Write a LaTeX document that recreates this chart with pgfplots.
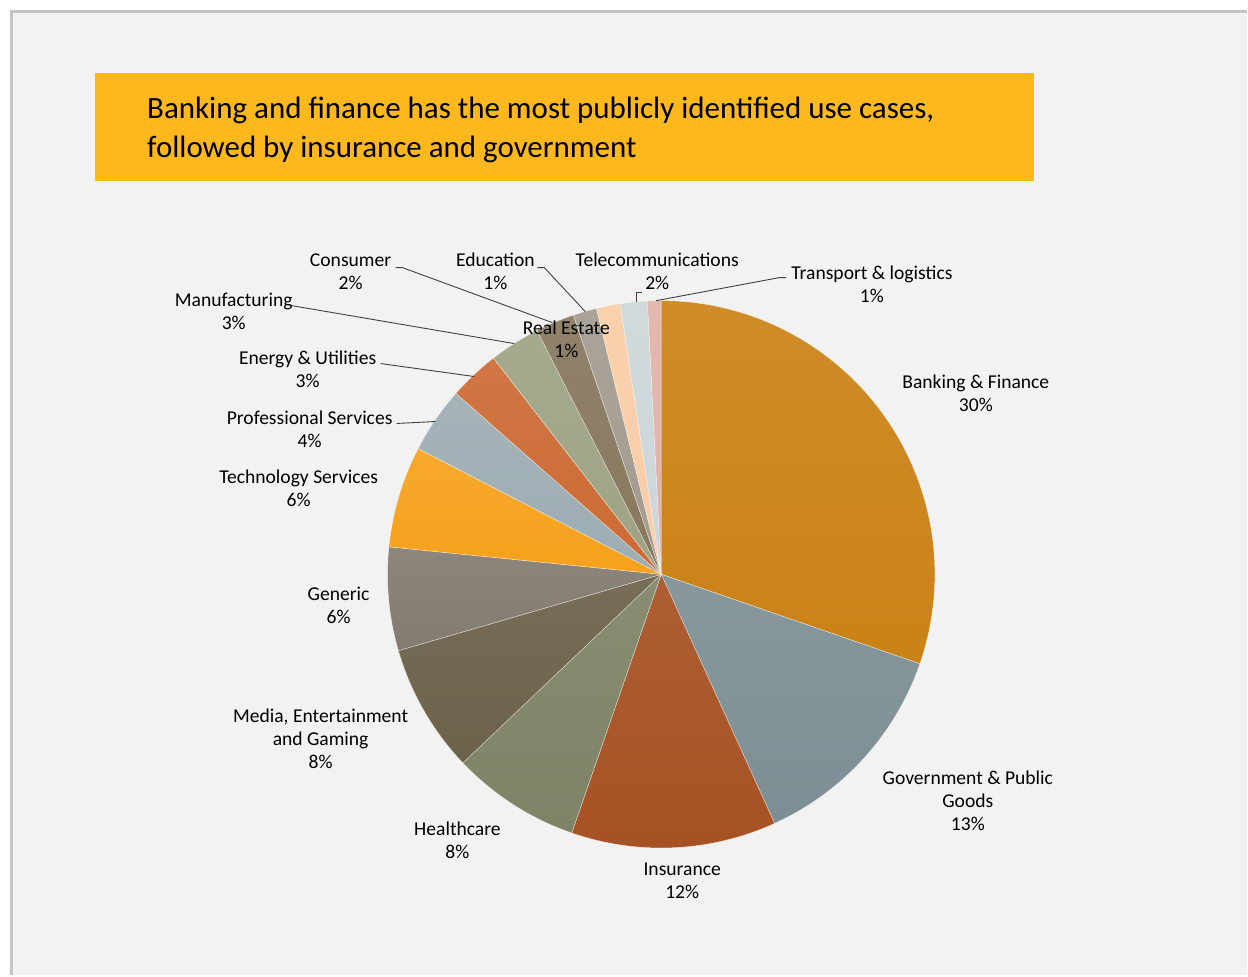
\documentclass[border=0pt]{standalone}
\usepackage{pgfplots}
\usepackage{pgfplotstable}
\pgfplotsset{compat=1.18}
\usepackage{fontspec}
\setmainfont{Carlito}

\definecolor{frame}{HTML}{C4C4C4}
\definecolor{panel}{HTML}{F2F2F2}
\definecolor{titlebar}{HTML}{FDB81E}
\definecolor{cBank}{HTML}{CB8216}
\definecolor{cGov}{HTML}{7D8F94}
\definecolor{cIns}{HTML}{A65123}
\definecolor{cHealth}{HTML}{7E8366}
\definecolor{cMedia}{HTML}{6C6149}
\definecolor{cGeneric}{HTML}{837B6F}
\definecolor{cTech}{HTML}{F7A11C}
\definecolor{cProf}{HTML}{9CADB3}
\definecolor{cEnergy}{HTML}{CC6A34}
\definecolor{cManuf}{HTML}{9DA383}
\definecolor{cCons}{HTML}{87785D}
\definecolor{cRE}{HTML}{A39B90}
\definecolor{cEdu}{HTML}{FACCA6}
\definecolor{cTele}{HTML}{CCD6D9}
\definecolor{cTrans}{HTML}{E0B3A7}

% share of use cases (per cent), clockwise from 12 o'clock
\pgfplotstableread[col sep=comma]{
sector,share,colour
Banking and Finance,30.3,cBank
Government and Public Goods,12.9,cGov
Insurance,12.1,cIns
Healthcare,7.6,cHealth
Media Entertainment and Gaming,7.6,cMedia
Generic,6.1,cGeneric
Technology Services,6.0,cTech
Professional Services,3.9,cProf
Energy and Utilities,3.0,cEnergy
Manufacturing,3.0,cManuf
Consumer,2.3,cCons
Real Estate,1.4,cRE
Education,1.4,cEdu
Telecommunications,1.6,cTele
Transport and logistics,0.8,cTrans
}\pietable

\begin{document}
\begin{tikzpicture}[
  lbl/.style={font=\fontsize{9.8}{11.5}\selectfont, align=center, text=black, inner sep=0pt},
  lead/.style={draw=black!75, line width=0.45pt},
]
\begin{axis}[
  hide axis, scale only axis,
  width=624pt, height=488pt,
  xmin=0, xmax=1248, ymin=0, ymax=976,
  y dir=reverse,
  clip=false,
]
% page and panel
\fill[white] (axis cs:0,0) rectangle (axis cs:1248,976);
\fill[panel] (axis cs:12,12) rectangle (axis cs:1248,976);
\draw[frame, line width=1.5pt] (axis cs:11.5,976) -- (axis cs:11.5,11.5) -- (axis cs:1248,11.5);

% title bar
\fill[titlebar] (axis cs:95,73) rectangle (axis cs:1035,181);
\node[anchor=base west, inner sep=0pt, font=\fontsize{15.5}{19}\selectfont]
  at (axis cs:147,119) {Banking and finance has the most publicly identified use cases,};
\node[anchor=base west, inner sep=0pt, font=\fontsize{15.5}{19}\selectfont]
  at (axis cs:147,158) {followed by insurance and government};

% slices
\pgfplotstablegetrowsof{\pietable}
\pgfmathtruncatemacro\lastrow{\pgfplotsretval-1}
\def\cum{0}
\pgfplotsforeachungrouped \i in {0,...,\lastrow}{%
  \pgfplotstablegetelem{\i}{share}\of\pietable \let\sh\pgfplotsretval
  \pgfplotstablegetelem{\i}{colour}\of\pietable \let\col\pgfplotsretval
  \pgfmathsetmacro\aS{90-3.6*\cum}%
  \pgfmathsetmacro\cum{\cum+\sh}%
  \pgfmathsetmacro\aE{90-3.6*\cum}%
  \edef\slice{\noexpand\path[draw=white, draw opacity=0.55, line width=0.25pt,
      top color=\col!92!white, bottom color=\col]
    (axis cs:662,575) -- ++(\aS:137pt)
    arc[start angle=\aS, end angle=\aE, radius=137pt] -- cycle;}%
  \slice
}

% leader lines
\draw[lead] (axis cs:396,268) -- (axis cs:403,268) -- (axis cs:553,323);
\draw[lead] (axis cs:538,268) -- (axis cs:545,268) -- (axis cs:586,312);
\draw[lead] (axis cs:292,306) -- (axis cs:515,344);
\draw[lead] (axis cs:381,364) -- (axis cs:475,377);
\draw[lead] (axis cs:397,424) -- (axis cs:436,422);
\draw[lead] (axis cs:643,293) -- (axis cs:637,293) -- (axis cs:637,302);
\draw[lead] (axis cs:787,278) -- (axis cs:780,278) -- (axis cs:657,301);

% data labels
\node[lbl] at (axis cs:977,394) {Banking \& Finance\\30\%};
\node[lbl] at (axis cs:969,802) {Government \& Public\\Goods\\13\%};
\node[lbl] at (axis cs:683,882) {Insurance\\12\%};
\node[lbl] at (axis cs:458,841) {Healthcare\\8\%};
\node[lbl] at (axis cs:321,740) {Media, Entertainment\\and Gaming\\8\%};
\node[lbl] at (axis cs:339,606) {Generic\\6\%};
\node[lbl] at (axis cs:299,489) {Technology Services\\6\%};
\node[lbl] at (axis cs:310,430) {Professional Services\\4\%};
\node[lbl] at (axis cs:308,370) {Energy \& Utilities\\3\%};
\node[lbl] at (axis cs:234,312) {Manufacturing\\3\%};
\node[lbl] at (axis cs:351,272) {Consumer\\2\%};
\node[lbl] at (axis cs:567,340) {Real Estate\\1\%};
\node[lbl] at (axis cs:496,272) {Education\\1\%};
\node[lbl] at (axis cs:658,272) {Telecommunications\\2\%};
\node[lbl] at (axis cs:873,285) {Transport \& logistics\\1\%};
\end{axis}
\end{tikzpicture}
\end{document}
